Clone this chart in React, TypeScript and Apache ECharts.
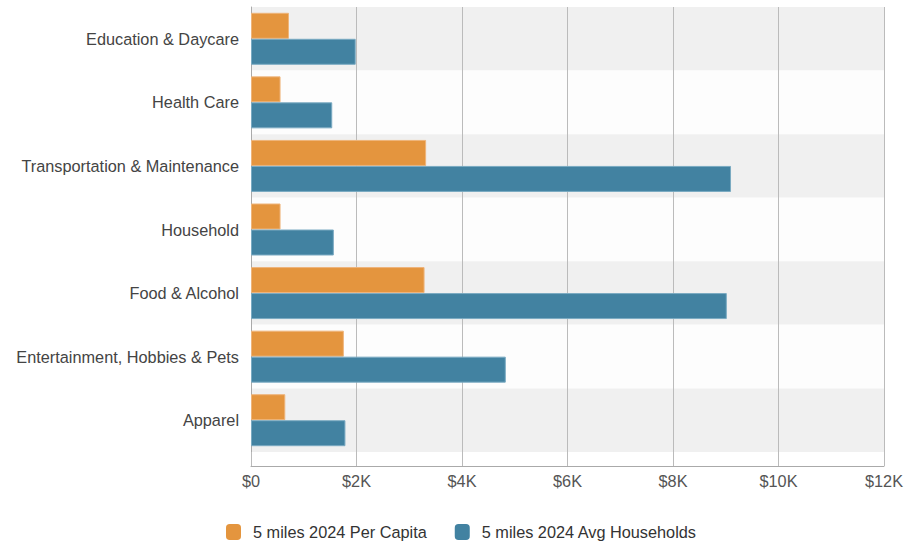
import React, { useEffect, useRef } from "react";
import * as echarts from "echarts";

const categories = [
  "Education & Daycare",
  "Health Care",
  "Transportation & Maintenance",
  "Household",
  "Food & Alcohol",
  "Entertainment, Hobbies & Pets",
  "Apparel",
];
const perCapita = [720, 560, 3320, 560, 3290, 1760, 650];
const avgHouseholds = [1985, 1540, 9100, 1570, 9020, 4830, 1790];
const seriesNames = ["5 miles 2024 Per Capita", "5 miles 2024 Avg Households"];

const FONT = "'Liberation Sans', Arial, sans-serif";

export default function App() {
  const ref = useRef<HTMLDivElement>(null);
  useEffect(() => {
    if (!ref.current) return;
    const chart = echarts.init(ref.current, null, { renderer: "svg" });
    chart.setOption({
      animation: false,
      textStyle: { fontFamily: FONT },
      grid: { left: 251, right: 27, top: 7, bottom: 91, containLabel: false },
      legend: {
        top: 524,
        left: 226,
        padding: 0,
        itemWidth: 15,
        itemHeight: 16,
        itemGap: 28,
        icon: "roundRect",
        itemStyle: { borderWidth: 0 },
        textStyle: { fontSize: 16.3, color: "#333", fontFamily: FONT, padding: [0, 0, 0, 7] },
        data: seriesNames,
      },
      xAxis: {
        type: "value",
        min: 0,
        max: 12000,
        interval: 2000,
        offset: 14,
        axisLine: { show: true, lineStyle: { color: "#aaa", width: 1 } },
        axisTick: { show: true, inside: true, length: 14, lineStyle: { color: "#bbb" } },
        splitLine: { show: true, lineStyle: { color: "#bbb", width: 1 } },
        axisLabel: {
          fontSize: 16.3,
          color: "#555",
          margin: 7,
          fontFamily: FONT,
          formatter: (v: number) => (v === 0 ? "$0" : "$" + v / 1000 + "K"),
        },
      },
      yAxis: {
        type: "category",
        inverse: true,
        data: categories,
        axisLine: { show: true, lineStyle: { color: "#aaa", width: 1 } },
        axisTick: { show: false },
        axisLabel: { fontSize: 16.3, color: "#444", margin: 12, fontFamily: FONT },
        splitArea: { show: true, areaStyle: { color: ["#f0f0f0", "#fdfdfd"] } },
      },
      series: [
        {
          name: seriesNames[0],
          type: "bar",
          data: perCapita,
          barWidth: 26,
          barGap: "0%",
          itemStyle: { color: "#e4953e", borderColor: "#eeb47a", borderWidth: 1 },
        },
        {
          name: seriesNames[1],
          type: "bar",
          data: avgHouseholds,
          barWidth: 26,
          barGap: "0%",
          itemStyle: { color: "#4282a1", borderColor: "#7aaac2", borderWidth: 1 },
        },
      ],
    });
    return () => chart.dispose();
  }, []);
  return <div ref={ref} style={{ width: 911, height: 543, position: "absolute", left: 0, top: 0 }} />;
}
